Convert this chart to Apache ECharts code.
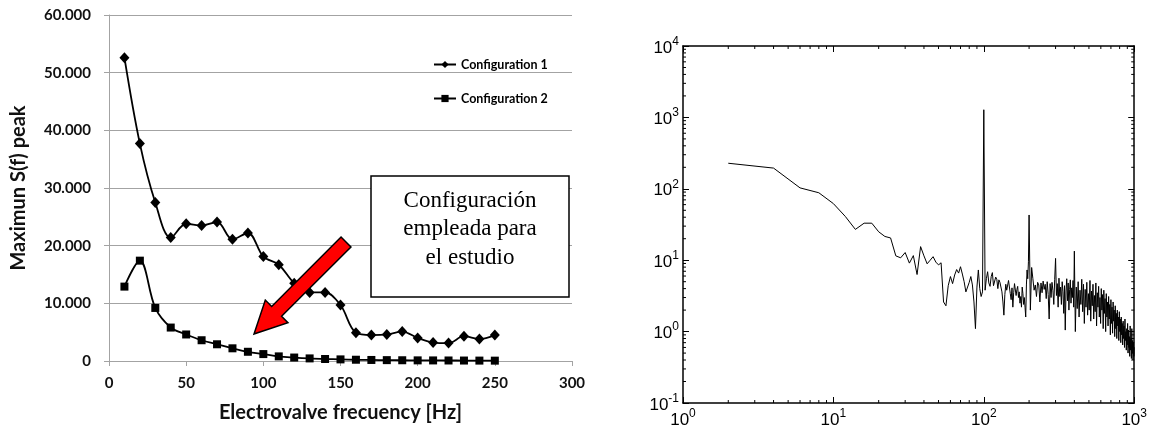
<!DOCTYPE html>
<html><head><meta charset="utf-8">
<script src="https://cdn.jsdelivr.net/npm/echarts@6/dist/echarts.min.js"></script>
<style>html,body{margin:0;padding:0;background:#fff}#c{width:1150px;height:429px}</style>
</head><body><div id="c"></div>
<script>
// ---- Left chart data ----
const valveFreq = [10,20,30,40,50,60,70,80,90,100,110,120,130,140,150,160,170,180,190,200,210,220,230,240,250];
const config1 = [52600,37700,27500,21400,23800,23500,24100,21100,22200,18100,16700,13500,11900,11900,9700,4900,4500,4600,5100,4000,3200,3100,4300,3800,4500];
const config2 = [12900,17400,9200,5800,4600,3600,2900,2200,1600,1200,800,600,450,350,280,220,180,150,130,110,100,90,80,70,60];
const seriesNames = ['Configuration 1','Configuration 2'];
const leftXTicks = [0,50,100,150,200,250,300];
const leftYTicks = [0,10000,20000,30000,40000,50000,60000];
const boxLines = ['Configuración','empleada para','el estudio'];

// ---- Right chart data (spectrum) ----
const specFreq = [
2,4,6,8,10,12,14,16,18,20,22,24,26,28,30,32,34,36,38,40,42,44,46,48,50,52,54,56,58,60,62,64,66,68,70,72,74,76,78,80,82,84,86,88,90,92,94,96,98,100,
102,104,106,108,110,112,114,116,118,120,122,124,126,128,130,132,134,136,138,140,142,144,146,148,150,152,154,156,158,160,162,164,166,168,170,172,174,176,178,180,182,184,186,188,190,192,194,196,198,200,
204,208,212,216,220,224,228,232,236,240,244,248,252,256,260,264,268,272,276,280,284,288,292,296,300,304,308,312,316,320,324,328,332,336,340,344,348,352,356,360,364,368,372,376,380,384,388,392,396,400,
406,412,418,424,430,436,442,448,454,460,466,472,478,484,490,496,502,508,514,520,526,532,538,544,550,556,562,568,574,580,586,592,598,604,610,616,622,628,634,640,646,652,658,664,670,676,682,688,694,700,
706,712,718,724,730,736,742,748,754,760,766,772,778,784,790,796,802,808,814,820,826,832,838,844,850,856,862,868,874,880,886,892,898,904,910,916,922,928,934,940,946,952,958,964,970,976,982,988,994,1000];
const specAmp = [
228,195,103,88,62,41,27,33,33,25,21.5,20.5,11.5,10.8,12.8,9.1,11.6,6.3,15.5,11.5,8.9,10,11.2,9.4,8.6,9.2,2.6,2.3,4.4,5.9,4.7,6.2,7.4,6.6,8.1,6.4,5.0,3.6,3.4,4.9,5.9,4.5,2.6,1.1,4.2,7.3,4.0,3.1,3.6,1280,
3.8,5.5,6.9,4.8,4.3,5.9,6.7,4.4,4.6,5.8,5.4,4.0,5.3,4.9,4.7,3.6,2.6,1.7,3.3,4.6,3.8,3.9,5.2,5.3,3.4,2.8,4.1,2.2,3.5,4.7,4.6,3.2,3.9,4.3,3.0,3.6,2.5,3.1,2.2,4.2,3.4,2.4,3.0,2.2,1.6,4.5,7.3,5.5,9.5,43,
2.0,7.9,5.5,3.8,4.5,3.1,4.9,4.5,2.6,4.8,3.5,5.1,3.9,4.6,2.9,5.0,3.3,1.5,4.7,3.0,4.9,3.8,2.4,5.4,10.6,3.2,4.7,2.2,5.6,3.1,4.2,2.4,5.0,3.6,1.8,4.4,1.05,3.7,5.5,2.7,4.8,2.0,3.9,5.3,2.5,4.1,3.0,5.2,2.2,13.4,
1.0,4.2,2.1,5.0,1.6,3.8,2.4,5.4,1.9,4.6,1.3,3.9,2.2,4.9,1.7,3.4,2.0,5.2,1.4,3.7,2.3,4.6,1.5,3.2,1.9,4.8,1.2,3.5,2.2,4.3,1.6,3.0,1.3,4.0,2.0,3.3,1.1,3.8,1.8,2.9,1.0,3.4,1.6,2.6,1.2,3.1,1.5,2.4,0.9,2.8,
1.3,2.2,0.95,2.6,1.4,2.0,0.85,2.3,1.1,1.8,0.8,2.0,1.2,1.6,0.75,1.9,1.0,1.5,0.7,1.6,0.9,1.3,0.65,1.4,0.8,1.2,0.6,1.5,0.75,1.0,0.55,1.1,0.65,1.3,0.5,1.05,0.6,0.85,0.45,1.2,0.55,0.8,0.42,1.1,0.5,0.75,0.4,0.7,0.45,0.6];
const minorMult = [2,3,4,5,6,7,8,9];
const xDecades = [1,10,100];
const yDecades = [0.1,1,10,100,1000];

const xMinor = []; xDecades.forEach(d => minorMult.forEach(m => xMinor.push([m*d, 1])));
const yMinor = []; yDecades.forEach(d => minorMult.forEach(m => yMinor.push([1, m*d])));

const chart = echarts.init(document.getElementById('c'), null, {renderer:'canvas'});
const gridGray = '#a3a3a3';
const boldLato = {fontFamily:'Lato', fontWeight:'bold', color:'#111'};
function thousands(v){ return String(v).replace(/\B(?=(\d{3})+(?!\d))/g, '.'); }
function powLabel(v){ const e = Math.round(Math.log10(v)); return '{b|10}{s|' + e + '}'; }
const powRich = {
  b:{fontFamily:'Liberation Sans', fontSize:17, color:'#000', verticalAlign:'bottom'},
  s:{fontFamily:'Liberation Sans', fontSize:12, color:'#000', verticalAlign:'bottom', padding:[0,0,9,0]}
};

// Arrow geometry (annotation)
const tip = [254, 334], tail = [346, 242];
const dx = tail[0]-tip[0], dy = tail[1]-tip[1], L = Math.hypot(dx, dy);
const ux = dx/L, uy = dy/L, nx = -uy, ny = ux;
const headLen = 32, headHalf = 16, shaftHalf = 7;
const hb = [tip[0]+ux*headLen, tip[1]+uy*headLen];
const arrowPts = [
  tip,
  [hb[0]+nx*headHalf, hb[1]+ny*headHalf],
  [hb[0]+nx*shaftHalf, hb[1]+ny*shaftHalf],
  [tail[0]+nx*shaftHalf, tail[1]+ny*shaftHalf],
  [tail[0]-nx*shaftHalf, tail[1]-ny*shaftHalf],
  [hb[0]-nx*shaftHalf, hb[1]-ny*shaftHalf],
  [hb[0]-nx*headHalf, hb[1]-ny*headHalf]
];

function tickLine(x1,y1,x2,y2){ return {type:'line', shape:{x1,y1,x2,y2}, style:{stroke:'#000', lineWidth:1}}; }

const option = {
  animation:false,
  backgroundColor:'#fff',
  grid:[
    {left:109, top:15, right:578, bottom:68},
    {left:683, top:46, right:13, bottom:26}
  ],
  legend:{
    data:seriesNames, orient:'vertical', left:428, top:53, itemGap:21, itemWidth:22, itemHeight:9,
    textStyle:{fontFamily:'Lato', fontWeight:'bold', fontSize:12.5, color:'#000'}
  },
  xAxis:[
    {type:'value', gridIndex:0, min:leftXTicks[0], max:leftXTicks[leftXTicks.length-1], interval:50,
     name:'Electrovalve frecuency [Hz]', nameLocation:'middle', nameGap:42,
     nameTextStyle:Object.assign({fontSize:20}, boldLato),
     axisLine:{show:true, lineStyle:{color:gridGray}}, axisTick:{show:true, length:5, lineStyle:{color:gridGray}},
     splitLine:{show:false}, axisLabel:Object.assign({fontSize:15, margin:15}, boldLato)},
    {type:'log', gridIndex:1, logBase:10, min:1, max:1000, position:'bottom',
     axisLine:{show:true, onZero:false, lineStyle:{color:'#000', width:1.5}},
     axisTick:{show:true, inside:true, length:6, lineStyle:{color:'#000'}},
     splitLine:{show:false}, minorTick:{show:false},
     axisLabel:{formatter:powLabel, rich:powRich, margin:5}},
    {type:'log', gridIndex:1, logBase:10, min:1, max:1000, position:'top',
     axisLine:{show:true, onZero:false, lineStyle:{color:'#000', width:1.5}},
     axisTick:{show:true, inside:true, length:6, lineStyle:{color:'#000'}},
     splitLine:{show:false}, axisLabel:{show:false}}
  ],
  yAxis:[
    {type:'value', gridIndex:0, min:leftYTicks[0], max:leftYTicks[leftYTicks.length-1], interval:10000,
     name:'Maximun S(f) peak', nameLocation:'middle', nameGap:80,
     nameTextStyle:Object.assign({fontSize:20}, boldLato),
     axisLine:{show:true, lineStyle:{color:gridGray}}, axisTick:{show:true, length:5, lineStyle:{color:gridGray}},
     splitLine:{show:true, lineStyle:{color:gridGray, width:1}},
     axisLabel:Object.assign({fontSize:15, margin:18, formatter:thousands}, boldLato)},
    {type:'log', gridIndex:1, logBase:10, min:0.1, max:10000, position:'left', splitNumber:5,
     axisLine:{show:true, onZero:false, lineStyle:{color:'#000', width:1.5}},
     axisTick:{show:true, inside:true, length:6, lineStyle:{color:'#000'}},
     splitLine:{show:false},
     axisLabel:{formatter:powLabel, rich:powRich, margin:4}},
    {type:'log', gridIndex:1, logBase:10, min:0.1, max:10000, position:'right', splitNumber:5,
     axisLine:{show:true, onZero:false, lineStyle:{color:'#000', width:1.5}},
     axisTick:{show:true, inside:true, length:6, lineStyle:{color:'#000'}},
     splitLine:{show:false}, axisLabel:{show:false}}
  ],
  series:[
    {name:seriesNames[0], type:'line', xAxisIndex:0, yAxisIndex:0, smooth:0.35,
     data:valveFreq.map((f,i)=>[f, config1[i]]), symbol:'diamond', symbolSize:[10,11], showSymbol:true,
     itemStyle:{color:'#000'}, lineStyle:{color:'#000', width:1.8}, z:3},
    {name:seriesNames[1], type:'line', xAxisIndex:0, yAxisIndex:0, smooth:0.35,
     data:valveFreq.map((f,i)=>[f, config2[i]]), symbol:'rect', symbolSize:8, showSymbol:true,
     itemStyle:{color:'#000'}, lineStyle:{color:'#000', width:1.8}, z:3},
    {name:'spectrum', type:'line', xAxisIndex:1, yAxisIndex:1, showSymbol:false, symbol:'none',
     data:specFreq.map((f,i)=>[f, specAmp[i]]), lineStyle:{color:'#000', width:1}, silent:true, z:3},
    {name:'xminor', type:'custom', xAxisIndex:1, yAxisIndex:1, silent:true, clip:false, z:5,
     data:xMinor,
     renderItem:(p, api) => {
       const f = api.value(0);
       const b = api.coord([f, 0.1]), t = api.coord([f, 10000]);
       return {type:'group', children:[tickLine(b[0],b[1],b[0],b[1]-3), tickLine(t[0],t[1],t[0],t[1]+3)]};
     }},
    {name:'yminor', type:'custom', xAxisIndex:1, yAxisIndex:1, silent:true, clip:false, z:5,
     data:yMinor,
     renderItem:(p, api) => {
       const v = api.value(1);
       const l = api.coord([1, v]), r = api.coord([1000, v]);
       return {type:'group', children:[tickLine(l[0],l[1],l[0]+3,l[1]), tickLine(r[0],r[1],r[0]-3,r[1])]};
     }}
  ],
  graphic:[
    {type:'rect', z:50, shape:{x:371, y:176, width:198, height:121},
     style:{fill:'#fff', stroke:'#000', lineWidth:1.5}},
    {type:'text', z:51, x:470, y:229,
     style:{text:boxLines.join('\n'), fontFamily:'Liberation Serif', fontSize:23, lineHeight:28.5,
            fill:'#000', align:'center', verticalAlign:'middle'}},
    {type:'polygon', z:60, shape:{points:arrowPts},
     style:{fill:'#ff0000', stroke:'#000', lineWidth:1.5, lineJoin:'miter'}}
  ]
};
chart.setOption(option);
</script>
</body></html>
